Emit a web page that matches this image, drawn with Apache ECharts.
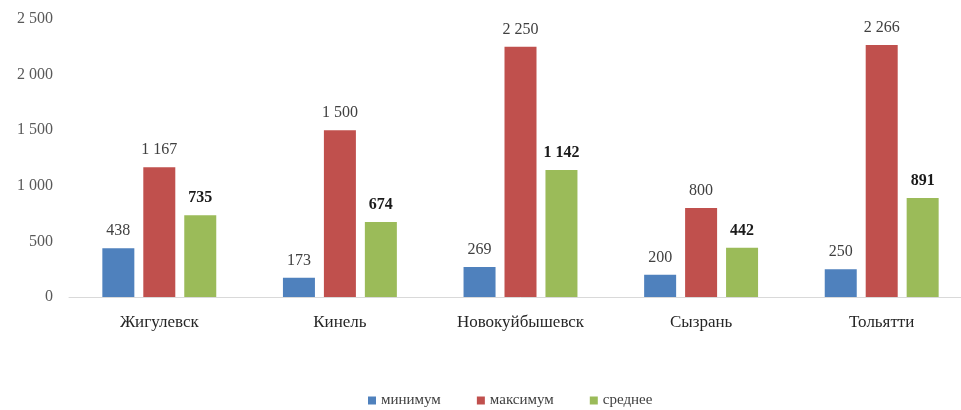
<!DOCTYPE html>
<html>
<head>
<meta charset="utf-8">
<script src="https://cdn.jsdelivr.net/npm/echarts@6/dist/echarts.min.js"></script>
<style>html,body{margin:0;padding:0;background:#fff;overflow:hidden;width:961px;height:410px;}#c{width:972px;height:410px;}</style>
</head>
<body>
<div id="c"></div>
<script>
var categories = ['Жигулевск', 'Кинель', 'Новокуйбышевск', 'Сызрань', 'Тольятти'];
var seriesNames = ['минимум', 'максимум', 'среднее'];
var minimum = [438, 173, 269, 200, 250];
var maximum = [1167, 1500, 2250, 800, 2266];
var average = [735, 674, 1142, 442, 891];
var yTicks = [0, 500, 1000, 1500, 2000, 2500];

function fmt(v) {
  return String(v).replace(/\B(?=(\d{3})+(?!\d))/g, ' ');
}
var FONT = '"Liberation Serif", "Times New Roman", serif';
var chart = echarts.init(document.getElementById('c'));
function mk(name, data, color, bold) {
  return {
    name: name, type: 'bar', data: data,
    barWidth: 32, barGap: '28%',
    itemStyle: { color: color },
    label: {
      show: true, position: 'top', distance: 9,
      formatter: function (p) { return fmt(p.value); },
      fontFamily: FONT, fontSize: 16, color: bold ? '#1a1a1a' : '#404040',
      fontWeight: bold ? 'bold' : 'normal'
    }
  };
}
chart.setOption({
  animation: false,
  backgroundColor: '#fff',
  grid: { left: 69, top: 19, right: 0, bottom: 113, containLabel: false },
  legend: {
    bottom: -3, left: 363,
    itemWidth: 8, itemHeight: 8, itemGap: 36,
    icon: 'rect',
    textStyle: { fontFamily: FONT, fontSize: 15, color: '#404040' },
    data: seriesNames
  },
  xAxis: {
    type: 'category', data: categories,
    axisLine: { lineStyle: { color: '#d9d9d9', width: 1 } },
    axisTick: { show: false },
    axisLabel: { fontFamily: FONT, fontSize: 17, color: '#262626', margin: 17, interval: 0 }
  },
  yAxis: {
    type: 'value', min: yTicks[0], max: yTicks[yTicks.length - 1], interval: 500,
    splitLine: { show: false },
    axisLine: { show: false }, axisTick: { show: false },
    axisLabel: { fontFamily: FONT, fontSize: 16, color: '#595959', margin: 16,
      formatter: function (v) { return fmt(v); } }
  },
  series: [
    mk(seriesNames[0], minimum, '#4f81bd', false),
    mk(seriesNames[1], maximum, '#c0504d', false),
    mk(seriesNames[2], average, '#9bbb59', true)
  ]
});
</script>
</body>
</html>
